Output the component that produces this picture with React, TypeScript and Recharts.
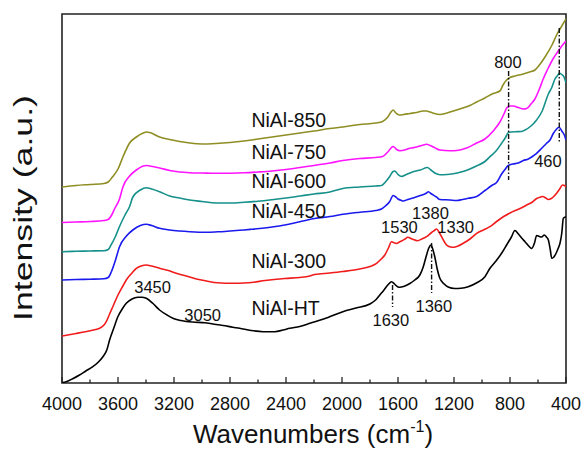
import { ComposedChart, Line, XAxis, YAxis, ReferenceLine, ReferenceArea, Scatter } from "recharts";

// FTIR spectra, [wavenumber (cm-1), intensity (a.u., stacked offsets)]
const NIAL_850: [number, number][] = [
  [4000, 196], [3900, 197.5], [3800, 198.5], [3700, 199.5], [3670, 201], [3640, 206], [3600, 214],
  [3565, 226], [3517, 240], [3469, 246], [3420, 250], [3398, 251], [3374, 250.5], [3303, 246],
  [3231, 243.5], [3160, 241.5], [3088, 240], [3000, 239], [2900, 239.5], [2800, 240.5], [2700, 242],
  [2600, 244], [2500, 246], [2400, 248], [2300, 250], [2200, 252], [2087, 254.5], [1994, 256],
  [1873, 258.5], [1760, 260], [1710, 261.5], [1673, 266], [1650, 271], [1635, 273], [1615, 270],
  [1590, 268], [1560, 268.5], [1515, 269.5], [1467, 270.5], [1420, 272], [1396, 272], [1370, 271],
  [1340, 269.5], [1301, 268.5], [1250, 270], [1181, 273], [1086, 277.5], [1038, 281], [980, 285],
  [920, 289.5], [872, 292], [850, 298], [824, 303], [800, 305.5], [765, 307], [705, 309], [660, 311],
  [622, 313], [590, 318], [550, 326], [500, 338], [467, 348], [430, 357], [400, 364],
];

const NIAL_750: [number, number][] = [
  [4000, 160.5], [3900, 161], [3800, 161.5], [3700, 162.5], [3670, 163.5], [3645, 168], [3625, 174],
  [3589, 184], [3565, 196], [3517, 207], [3469, 213], [3420, 217], [3398, 217.5], [3374, 217],
  [3303, 215], [3231, 212.5], [3160, 211], [3088, 210.3], [3000, 210], [2900, 209.7], [2800, 209.8],
  [2700, 210.2], [2600, 211], [2500, 212], [2400, 213.5], [2300, 215.5], [2200, 217.5], [2087, 220],
  [1994, 222.5], [1873, 224.5], [1760, 225.5], [1710, 226.5], [1673, 231], [1635, 236.5], [1610, 233.5],
  [1587, 232.3], [1551, 233], [1515, 234.7], [1467, 236], [1420, 238], [1396, 238.7], [1370, 237.5],
  [1340, 235.5], [1301, 233], [1229, 232.3], [1181, 232.5], [1110, 235], [1038, 240], [979, 244],
  [920, 252], [872, 261], [840, 270], [824, 275], [800, 277], [777, 277], [740, 275.5], [705, 274],
  [681, 274.5], [650, 279], [622, 284], [590, 294], [563, 304], [530, 314], [491, 324.5], [460, 331],
  [430, 337], [400, 342],
];

const NIAL_600: [number, number][] = [
  [4000, 131.3], [3900, 131.7], [3800, 132], [3700, 132.3], [3670, 133.5], [3650, 138], [3620, 146],
  [3589, 156.5], [3550, 168], [3517, 176.5], [3494, 186], [3440, 193], [3398, 195.3], [3360, 194],
  [3303, 191.3], [3231, 187], [3160, 185], [3088, 183], [3000, 181.5], [2900, 180], [2800, 180],
  [2700, 180.7], [2600, 181.8], [2500, 183.3], [2400, 185], [2300, 187], [2200, 189], [2087, 191],
  [1994, 194.5], [1873, 196], [1760, 197], [1718, 197.5], [1690, 201], [1659, 206.5], [1635, 211.5],
  [1623, 212], [1600, 208.5], [1575, 206.5], [1540, 208.5], [1492, 211.3], [1440, 213], [1390, 215.5],
  [1365, 213], [1337, 210], [1300, 208.3], [1250, 208.5], [1206, 209.3], [1150, 211], [1099, 213.3],
  [1040, 217], [979, 221.5], [943, 226.3], [900, 232], [860, 239.7], [830, 246], [812, 250.5],
  [765, 251.3], [720, 251.5], [693, 253], [650, 257], [610, 263], [570, 272], [526, 289], [500, 296],
  [479, 304], [460, 307.5], [448, 309.7], [430, 308.5], [414, 306], [400, 300],
];

const NIAL_450: [number, number][] = [
  [4000, 103], [3900, 103.5], [3800, 103.8], [3700, 104.2], [3670, 105.5], [3648, 111], [3620, 122],
  [3589, 136.3], [3540, 147], [3494, 153], [3440, 157.5], [3398, 158.7], [3360, 157.5], [3303, 154.7],
  [3231, 153], [3160, 152], [3088, 151.3], [2969, 150.7], [2888, 151.2], [2800, 152], [2700, 153],
  [2647, 153.7], [2500, 156], [2409, 158], [2302, 161.3], [2195, 164.5], [2087, 166.5], [1994, 168.7],
  [1873, 170.8], [1760, 172.5], [1718, 174], [1690, 177], [1659, 181.5], [1635, 187.5], [1620, 186.5],
  [1600, 184], [1575, 182.5], [1563, 182], [1530, 183.5], [1492, 185], [1440, 187.5], [1396, 190],
  [1384, 191.3], [1360, 189], [1325, 186], [1301, 183.5], [1229, 183], [1181, 182.5], [1140, 183.5],
  [1099, 184.7], [1038, 186.5], [979, 192.5], [930, 197.5], [896, 200.5], [860, 209], [836, 213.5],
  [812, 217.5], [780, 219], [741, 220], [705, 222.5], [669, 224], [640, 226.5], [610, 229.7],
  [574, 234.7], [540, 239.5], [514, 243], [491, 249.5], [470, 253.5], [450, 255.7], [430, 252],
  [407, 246.3], [400, 243],
];

const NIAL_300: [number, number][] = [
  [4000, 47], [3900, 49.5], [3832, 51.3], [3760, 53.5], [3732, 54.7], [3700, 58], [3684, 61.3],
  [3660, 69], [3637, 76.3], [3600, 88], [3565, 97], [3541, 103], [3500, 110], [3469, 114.7],
  [3430, 117.3], [3398, 118], [3360, 117], [3303, 114.7], [3240, 112.5], [3184, 109.7], [3112, 107],
  [3040, 104], [2969, 102], [2888, 100.2], [2779, 99.7], [2700, 100], [2647, 100.5], [2550, 102.5],
  [2409, 104.5], [2302, 105.5], [2230, 107], [2195, 108.5], [2087, 110], [1994, 111.5], [1873, 114],
  [1800, 116.5], [1753, 119.7], [1720, 124], [1694, 128], [1670, 134.5], [1646, 141.3], [1625, 140],
  [1610, 139.5], [1590, 141], [1575, 142], [1550, 144], [1530, 145.7], [1500, 144], [1460, 142.3],
  [1430, 144], [1396, 146.3], [1360, 150.5], [1340, 152.5], [1325, 154], [1305, 150.5], [1289, 146.3],
  [1270, 141.5], [1253, 138], [1225, 136], [1205, 135.7], [1170, 137], [1134, 139.7], [1086, 144],
  [1038, 149.7], [990, 153], [943, 156.3], [900, 161], [848, 166.3], [800, 170], [753, 173],
  [720, 175], [681, 178], [640, 181], [610, 184.5], [580, 186], [565, 186.5], [545, 185], [526, 183.5],
  [505, 184.5], [491, 186], [467, 189.7], [445, 194], [425, 198], [410, 197.5], [400, 196],
];

const NIAL_HT: [number, number][] = [
  [4000, 0.5], [3970, 1.3], [3920, 4.5], [3875, 8], [3830, 12], [3780, 16.3], [3740, 21], [3708, 26.3],
  [3680, 33], [3660, 43], [3630, 55], [3601, 66.3], [3570, 74], [3541, 79.7], [3500, 84], [3458, 85.7],
  [3430, 85.8], [3398, 84.7], [3350, 79.5], [3303, 73], [3250, 68], [3208, 64.7], [3150, 62.5],
  [3112, 61.5], [3050, 60.8], [2980, 60.2], [2922, 59], [2850, 57.5], [2780, 55.8], [2731, 54.7],
  [2650, 52.5], [2564, 51.3], [2480, 51.3], [2421, 53], [2373, 54.7], [2302, 56.5], [2230, 59.7],
  [2100, 65.5], [1994, 71.3], [1900, 75], [1801, 79], [1760, 83], [1730, 88], [1700, 93], [1670, 98.5],
  [1646, 101.3], [1625, 99], [1600, 96], [1587, 95.7], [1560, 96.5], [1515, 99.5], [1480, 103],
  [1444, 108], [1420, 116], [1400, 126], [1380, 135], [1365, 138], [1350, 133], [1337, 126],
  [1320, 114], [1301, 104.7], [1270, 99], [1242, 96], [1194, 94.5], [1150, 94.8], [1099, 96.3],
  [1040, 100], [979, 106.3], [943, 114.7], [900, 122], [860, 129.7], [820, 139], [790, 146],
  [765, 152.5], [740, 149], [710, 144], [693, 141.3], [660, 136], [645, 134.5], [625, 140],
  [610, 147.5], [590, 146.5], [574, 146], [555, 148], [540, 146], [526, 143], [512, 133],
  [502, 124.7], [490, 125.5], [470, 130], [455, 135], [443, 139.7], [430, 150], [419, 164.7],
  [400, 166.3],
];

const SERIES = [
  { name: "NiAl-850", color: "#8e8e24", points: NIAL_850 },
  { name: "NiAl-750", color: "#ff14ff", points: NIAL_750 },
  { name: "NiAl-600", color: "#16908a", points: NIAL_600 },
  { name: "NiAl-450", color: "#1a1aee", points: NIAL_450 },
  { name: "NiAl-300", color: "#f01c1c", points: NIAL_300 },
  { name: "NiAl-HT", color: "#000000", points: NIAL_HT },
];

const X_TICKS = [4000, 3800, 3600, 3400, 3200, 3000, 2800, 2600, 2400, 2200, 2000, 1800, 1600, 1400, 1200, 1000, 800, 600, 400];

// sample names, placed at [wavenumber, intensity] baseline
const SAMPLE_LABELS: [string, number, number][] = [
  ["NiAl-850", 2647, 256.3],
  ["NiAl-750", 2647, 224],
  ["NiAl-600", 2647, 194.7],
  ["NiAl-450", 2647, 165.5],
  ["NiAl-300", 2647, 114.7],
  ["NiAl-HT", 2647, 68],
];

// band assignments, centred text
const BAND_LABELS: [string, number, number][] = [
  ["800", 815, 315],
  ["460", 529, 216.3],
  ["1630", 1651, 57],
  ["1360", 1344, 71.3],
  ["1530", 1590, 150.3],
  ["1380", 1368, 164],
  ["1330", 1188, 150.3],
  ["3450", 3353, 90.3],
  ["3050", 2995, 62.3],
];

// dash-dot markers: [wavenumber, from, to]
const MARKERS: [number, number, number][] = [
  [810, 312, 203],
  [448, 355, 240],
  [1639, 98, 76],
  [1360, 140, 90],
];

const FONT = "'Liberation Sans', Arial, Helvetica, sans-serif";
const FRAME = "#222";
const Y_MAX = 369;

function WaveTick({ x, y, payload }: any) {
  const v = payload.value;
  const major = v % 400 === 0;
  return (
    <g>
      <line x1={x} x2={x} y1={y} y2={y - (major ? 6 : 3.5)} stroke={FRAME} strokeWidth={1.3} />
      {major && (
        <text x={x} y={y + 27} textAnchor="middle" fontSize={18} fontFamily={FONT} fill="#111">
          {v}
        </text>
      )}
    </g>
  );
}

const sampleRows = SAMPLE_LABELS.map(([text, w, v]) => ({ text, w, v }));
const bandRows = BAND_LABELS.map(([text, w, v]) => ({ text, w, v }));

export default function App() {
  return (
    <div style={{ position: "absolute", left: 0, top: 0, background: "#fff" }}>
      <ComposedChart width={582} height={449} margin={{ top: 14, right: 16, bottom: 0, left: 62 }}>
        <XAxis
          type="number"
          dataKey="w"
          domain={[400, 4000]}
          reversed
          allowDataOverflow
          ticks={X_TICKS}
          interval={0}
          tick={<WaveTick />}
          tickSize={0}
          tickMargin={0}
          axisLine={false}
          tickLine={false}
          height={66}
        />
        <YAxis type="number" dataKey="v" domain={[0, Y_MAX]} hide allowDataOverflow />
        {SERIES.map((s) => (
          <Line
            key={s.name}
            data={s.points.map(([w, v]) => ({ w, v }))}
            dataKey="v"
            name={s.name}
            type="monotone"
            stroke={s.color}
            strokeWidth={1.6}
            dot={false}
            activeDot={false}
            isAnimationActive={false}
          />
        ))}
        {MARKERS.map(([w, a, b]) => (
          <ReferenceLine
            key={w}
            segment={[{ x: w, y: a }, { x: w, y: b }]}
            stroke="#111"
            strokeWidth={1.4}
            strokeDasharray="5 2 1.5 2"
            ifOverflow="visible"
          />
        ))}
        <Scatter
          data={sampleRows}
          isAnimationActive={false}
          shape={(p: any) => (
            <text x={p.cx} y={p.cy} fontSize={19.5} fontFamily={FONT} fill="#111">
              {p.payload.text}
            </text>
          )}
        />
        <Scatter
          data={bandRows}
          isAnimationActive={false}
          shape={(p: any) => (
            <text x={p.cx} y={p.cy} textAnchor="middle" fontSize={16.5} fontFamily={FONT} fill="#111">
              {p.payload.text}
            </text>
          )}
        />
        <ReferenceArea x1={4000} x2={400} y1={0} y2={Y_MAX} fill="none" stroke={FRAME} strokeWidth={1.6} ifOverflow="visible" />
        <text x={313} y={443} textAnchor="middle" fontSize={26} fontFamily={FONT} fill="#111">
          Wavenumbers (cm
          <tspan dy={-11} fontSize={16}>-1</tspan>
          <tspan dy={11}>)</tspan>
        </text>
        <text
          x={23}
          y={208}
          transform="rotate(-90 23 208)"
          textAnchor="middle"
          dominantBaseline="central"
          fontSize={25}
          textLength={226}
          lengthAdjust="spacingAndGlyphs"
          fontFamily={FONT}
          fill="#111"
        >
          Intensity (a.u.)
        </text>
      </ComposedChart>
    </div>
  );
}
